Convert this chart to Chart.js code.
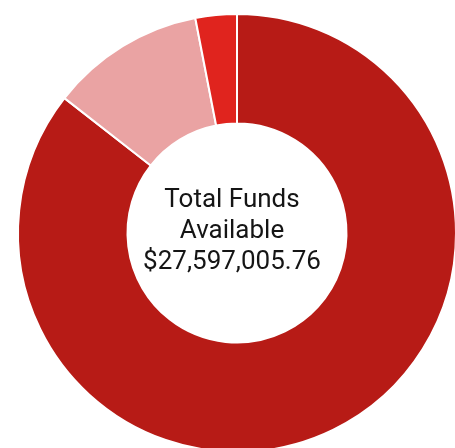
<!DOCTYPE html>
<html>
<head>
<meta charset="utf-8">
<script src="https://cdn.jsdelivr.net/npm/chart.js@4"></script>
<style>
  body { margin: 0; width: 455px; height: 448px; overflow: hidden; background: #fff; }
  #wrap { position: absolute; left: 0; top: 0; width: 474px; height: 466px; }
  #center {
    position: absolute; left: 132px; width: 200px; top: 183px;
    text-align: center; font-family: Roboto, sans-serif; font-size: 26px;
    line-height: 31px; color: #151515;
  }
</style>
</head>
<body>
<div id="wrap"><canvas id="donut"></canvas></div>
<div id="center">Total Funds<br>Available<br>$27,597,005.76</div>
<script>
// data
const labels = ['Fund A', 'Fund B', 'Fund C'];
const amounts = [23611842.15, 3143220.61, 841943.00];
const colors = ['#b71b16', '#eaa3a3', '#e0241e'];

const ctx = document.getElementById('donut').getContext('2d');

new Chart(ctx, {
    type: 'doughnut',
    data: {
        labels: labels,
        datasets: [{
            data: amounts,
            backgroundColor: colors,
            borderColor: '#ffffff',
            borderWidth: 2
        }]
    },
    options: {
        responsive: true,
        maintainAspectRatio: false,
        animation: false,
        radius: 219,
        cutout: '50%',
        plugins: {
            legend: { display: false },
            tooltip: { enabled: false }
        }
    }
});
</script>
</body>
</html>
